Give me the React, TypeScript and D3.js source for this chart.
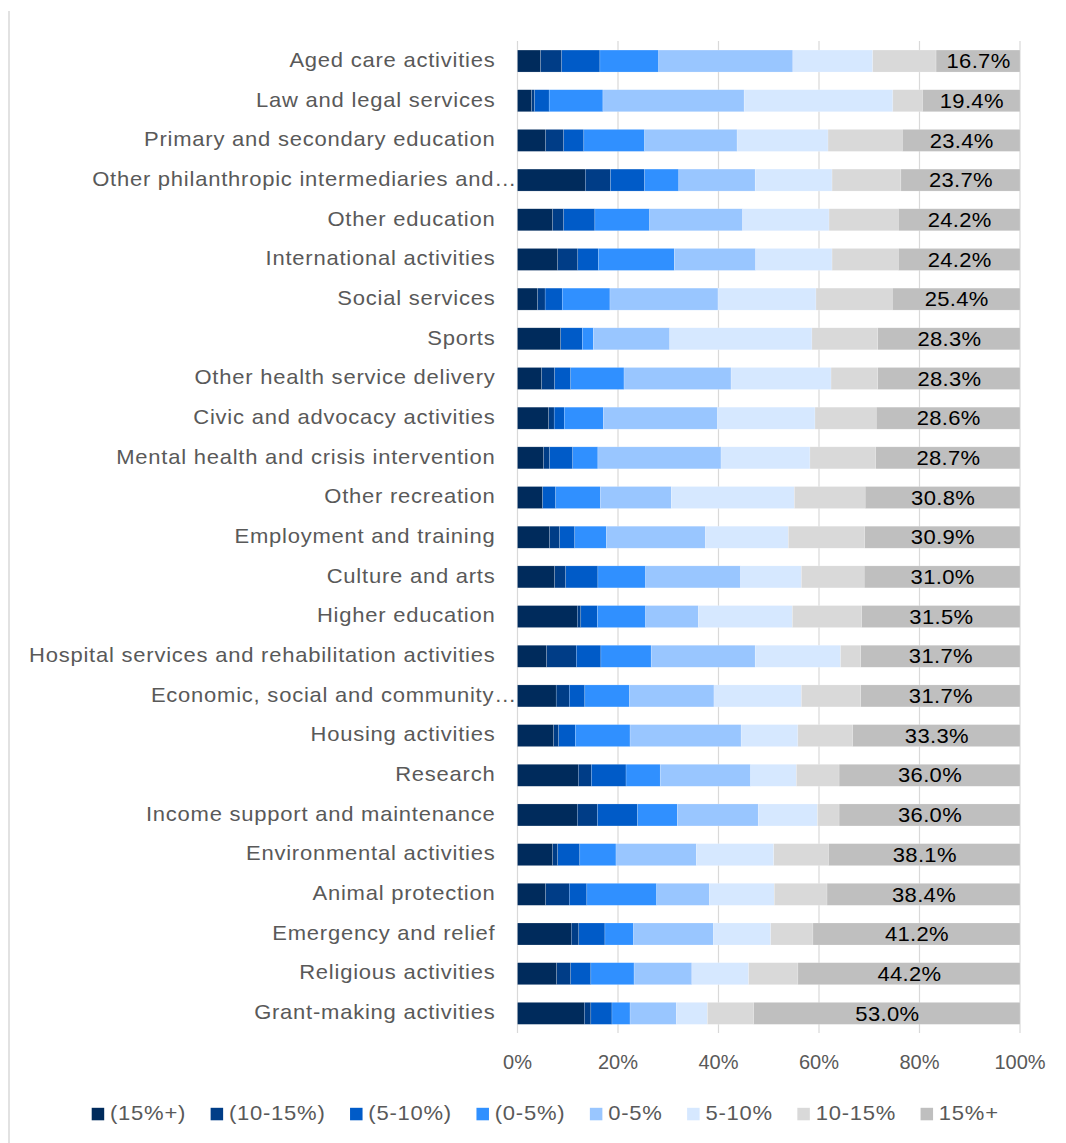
import React, { useEffect, useRef } from "react";
import * as d3 from "d3";

const categories = [
  "Aged care activities",
  "Law and legal services",
  "Primary and secondary education",
  "Other philanthropic intermediaries and…",
  "Other education",
  "International activities",
  "Social services",
  "Sports",
  "Other health service delivery",
  "Civic and advocacy activities",
  "Mental health and crisis intervention",
  "Other recreation",
  "Employment and training",
  "Culture and arts",
  "Higher education",
  "Hospital services and rehabilitation activities",
  "Economic, social and community…",
  "Housing activities",
  "Research",
  "Income support and maintenance",
  "Environmental activities",
  "Animal protection",
  "Emergency and relief",
  "Religious activities",
  "Grant-making activities",
];

const seriesLabels = ["(15%+)", "(10-15%)", "(5-10%)", "(0-5%)", "0-5%", "5-10%", "10-15%", "15%+"];

const neg15Plus = [4.6, 2.8, 5.6, 13.5, 7.0, 8.0, 4.0, 8.6, 4.8, 6.2, 5.2, 5.0, 6.4, 7.4, 11.9, 5.8, 7.7, 7.2, 12.1, 11.9, 7.0, 5.6, 10.7, 7.8, 13.3];
const neg10to15 = [4.2, 0.6, 3.6, 5.0, 2.2, 4.0, 1.5, 0, 2.6, 1.1, 1.2, 0, 2.0, 2.2, 0.7, 5.9, 2.6, 1.0, 2.6, 4.0, 1.0, 4.7, 1.5, 2.8, 1.3];
const neg5to10 = [7.6, 2.9, 4.0, 6.8, 6.2, 4.1, 3.4, 4.3, 3.2, 2.0, 4.6, 2.6, 3.0, 6.4, 3.3, 4.9, 3.1, 3.3, 6.9, 8.0, 4.4, 3.5, 5.2, 4.0, 4.2];
const neg0to5 = [11.7, 10.7, 12.1, 6.8, 10.9, 15.1, 9.5, 2.2, 10.6, 7.8, 5.0, 8.9, 6.3, 9.5, 9.6, 10.0, 8.9, 10.9, 6.8, 7.9, 7.2, 13.9, 5.7, 8.6, 3.6];
const pos0to5 = [26.7, 28.1, 18.4, 15.2, 18.5, 16.2, 21.5, 15.2, 21.3, 22.7, 24.5, 14.1, 19.7, 18.9, 10.5, 20.7, 16.8, 22.1, 18.0, 16.1, 16.0, 10.5, 15.9, 11.5, 9.2];
const pos5to10 = [15.9, 29.6, 18.1, 15.3, 17.2, 15.2, 19.5, 28.3, 19.9, 19.4, 17.7, 24.5, 16.5, 12.1, 18.7, 17.0, 17.4, 11.3, 9.1, 11.8, 15.4, 12.9, 11.4, 11.3, 6.2];
const pos10to15 = [12.6, 5.9, 14.8, 13.7, 13.8, 13.2, 15.2, 13.1, 9.3, 12.2, 13.1, 14.1, 15.2, 12.5, 13.8, 4.0, 11.8, 10.9, 8.5, 4.3, 10.9, 10.5, 8.4, 9.8, 9.2];
const pos15Plus = [16.7, 19.4, 23.4, 23.7, 24.2, 24.2, 25.4, 28.3, 28.3, 28.6, 28.7, 30.8, 30.9, 31.0, 31.5, 31.7, 31.7, 33.3, 36.0, 36.0, 38.1, 38.4, 41.2, 44.2, 53.0];

const seriesValues = [neg15Plus, neg10to15, neg5to10, neg0to5, pos0to5, pos5to10, pos10to15, pos15Plus];
const colors = ["#002b5c", "#003d87", "#005bc8", "#3090ff", "#99c6ff", "#d6e8ff", "#d9d9d9", "#bfbfbf"];
const tickValues = [0, 20, 40, 60, 80, 100];

const FONT = "'Liberation Sans', Arial, sans-serif";
const SX = 1.1;

export default function App() {
  const ref = useRef<SVGSVGElement>(null);

  useEffect(() => {
    const svg = d3.select(ref.current);
    svg.selectAll("*").remove();

    const keys = seriesLabels.map((_, i) => "s" + i);
    const rows = categories.map((c, ci) => {
      const r: any = { cat: c };
      keys.forEach((k, si) => (r[k] = seriesValues[si][ci]));
      return r;
    });

    const x = d3.scaleLinear().domain([0, 100]).range([517.5, 1020]);
    const y = d3
      .scaleBand<string>()
      .domain(categories)
      .range([41.2, 1033.2])
      .paddingInner(0.446)
      .paddingOuter(0.223);

    // left frame line
    svg
      .append("line")
      .attr("x1", 9)
      .attr("x2", 9)
      .attr("y1", 11)
      .attr("y2", 1143)
      .attr("stroke", "#d9d9d9")
      .attr("stroke-width", 1.5);

    // gridlines
    svg
      .append("g")
      .selectAll("line")
      .data(tickValues)
      .join("line")
      .attr("x1", (d) => x(d))
      .attr("x2", (d) => x(d))
      .attr("y1", 41)
      .attr("y2", 1033)
      .attr("stroke", "#d9d9d9")
      .attr("stroke-width", 1.2);

    const stacked = d3.stack<any>().keys(keys)(rows);

    const g = svg.append("g");
    stacked.forEach((layer, li) => {
      g.append("g")
        .attr("fill", colors[li])
        .selectAll("rect")
        .data(layer)
        .join("rect")
        .attr("x", (d) => x(d[0]))
        .attr("width", (d) => Math.max(0, x(d[1]) - x(d[0])))
        .attr("y", (d) => y(d.data.cat)!)
        .attr("height", y.bandwidth())
        .attr("stroke", "#ffffff")
        .attr("stroke-opacity", 0.35)
        .attr("stroke-width", 0.5);
    });

    // value labels on last segment
    const last = stacked[stacked.length - 1];
    svg
      .append("g")
      .selectAll("text")
      .data(last)
      .join("text")
      .attr(
        "transform",
        (d) =>
          `translate(${(x(d[0]) + x(d[1])) / 2 + 0.5},${y(d.data.cat)! + y.bandwidth() / 2 + 7.2}) scale(${SX},1)`
      )
      .attr("text-anchor", "middle")
      .attr("font-family", FONT)
      .attr("font-size", 20)
      .attr("letter-spacing", 0.3)
      .attr("fill", "#000")
      .text((d) => (d[1] - d[0]).toFixed(1) + "%");

    // category labels
    svg
      .append("g")
      .selectAll("text")
      .data(categories)
      .join("text")
      .attr(
        "transform",
        (d) => `translate(${d.endsWith("…") ? 517 : 495.5},${y(d)! + y.bandwidth() / 2 + 5.8}) scale(${SX},1)`
      )
      .attr("text-anchor", "end")
      .attr("font-family", FONT)
      .attr("font-size", 20)
      .attr("letter-spacing", 0.7)
      .attr("fill", "#595959")
      .text((d) => d);

    // x axis labels
    svg
      .append("g")
      .selectAll("text")
      .data(tickValues)
      .join("text")
      .attr("x", (d) => x(d))
      .attr("y", 1069)
      .attr("text-anchor", "middle")
      .attr("font-family", FONT)
      .attr("font-size", 20)
      .attr("fill", "#595959")
      .text((d) => d + "%");

    // legend
    const legend = svg.append("g");
    let lx = 91.7;
    seriesLabels.forEach((lab, i) => {
      legend
        .append("rect")
        .attr("x", lx)
        .attr("y", 1107.8)
        .attr("width", 12.5)
        .attr("height", 12.5)
        .attr("fill", colors[i]);
      const t = legend
        .append("text")
        .attr("transform", `translate(${lx + 18.3},1120) scale(${SX},1)`)
        .attr("font-family", FONT)
        .attr("font-size", 20)
        .attr("letter-spacing", 0.7)
        .attr("fill", "#595959")
        .text(lab);
      const w = (t.node() as SVGTextElement).getComputedTextLength() * SX;
      lx = lx + 18.3 + w + 24.5;
    });
  }, []);

  return (
    <svg
      ref={ref}
      width={1066}
      height={1143}
      style={{ position: "absolute", left: 0, top: 0, display: "block", background: "#fff" }}
    />
  );
}
